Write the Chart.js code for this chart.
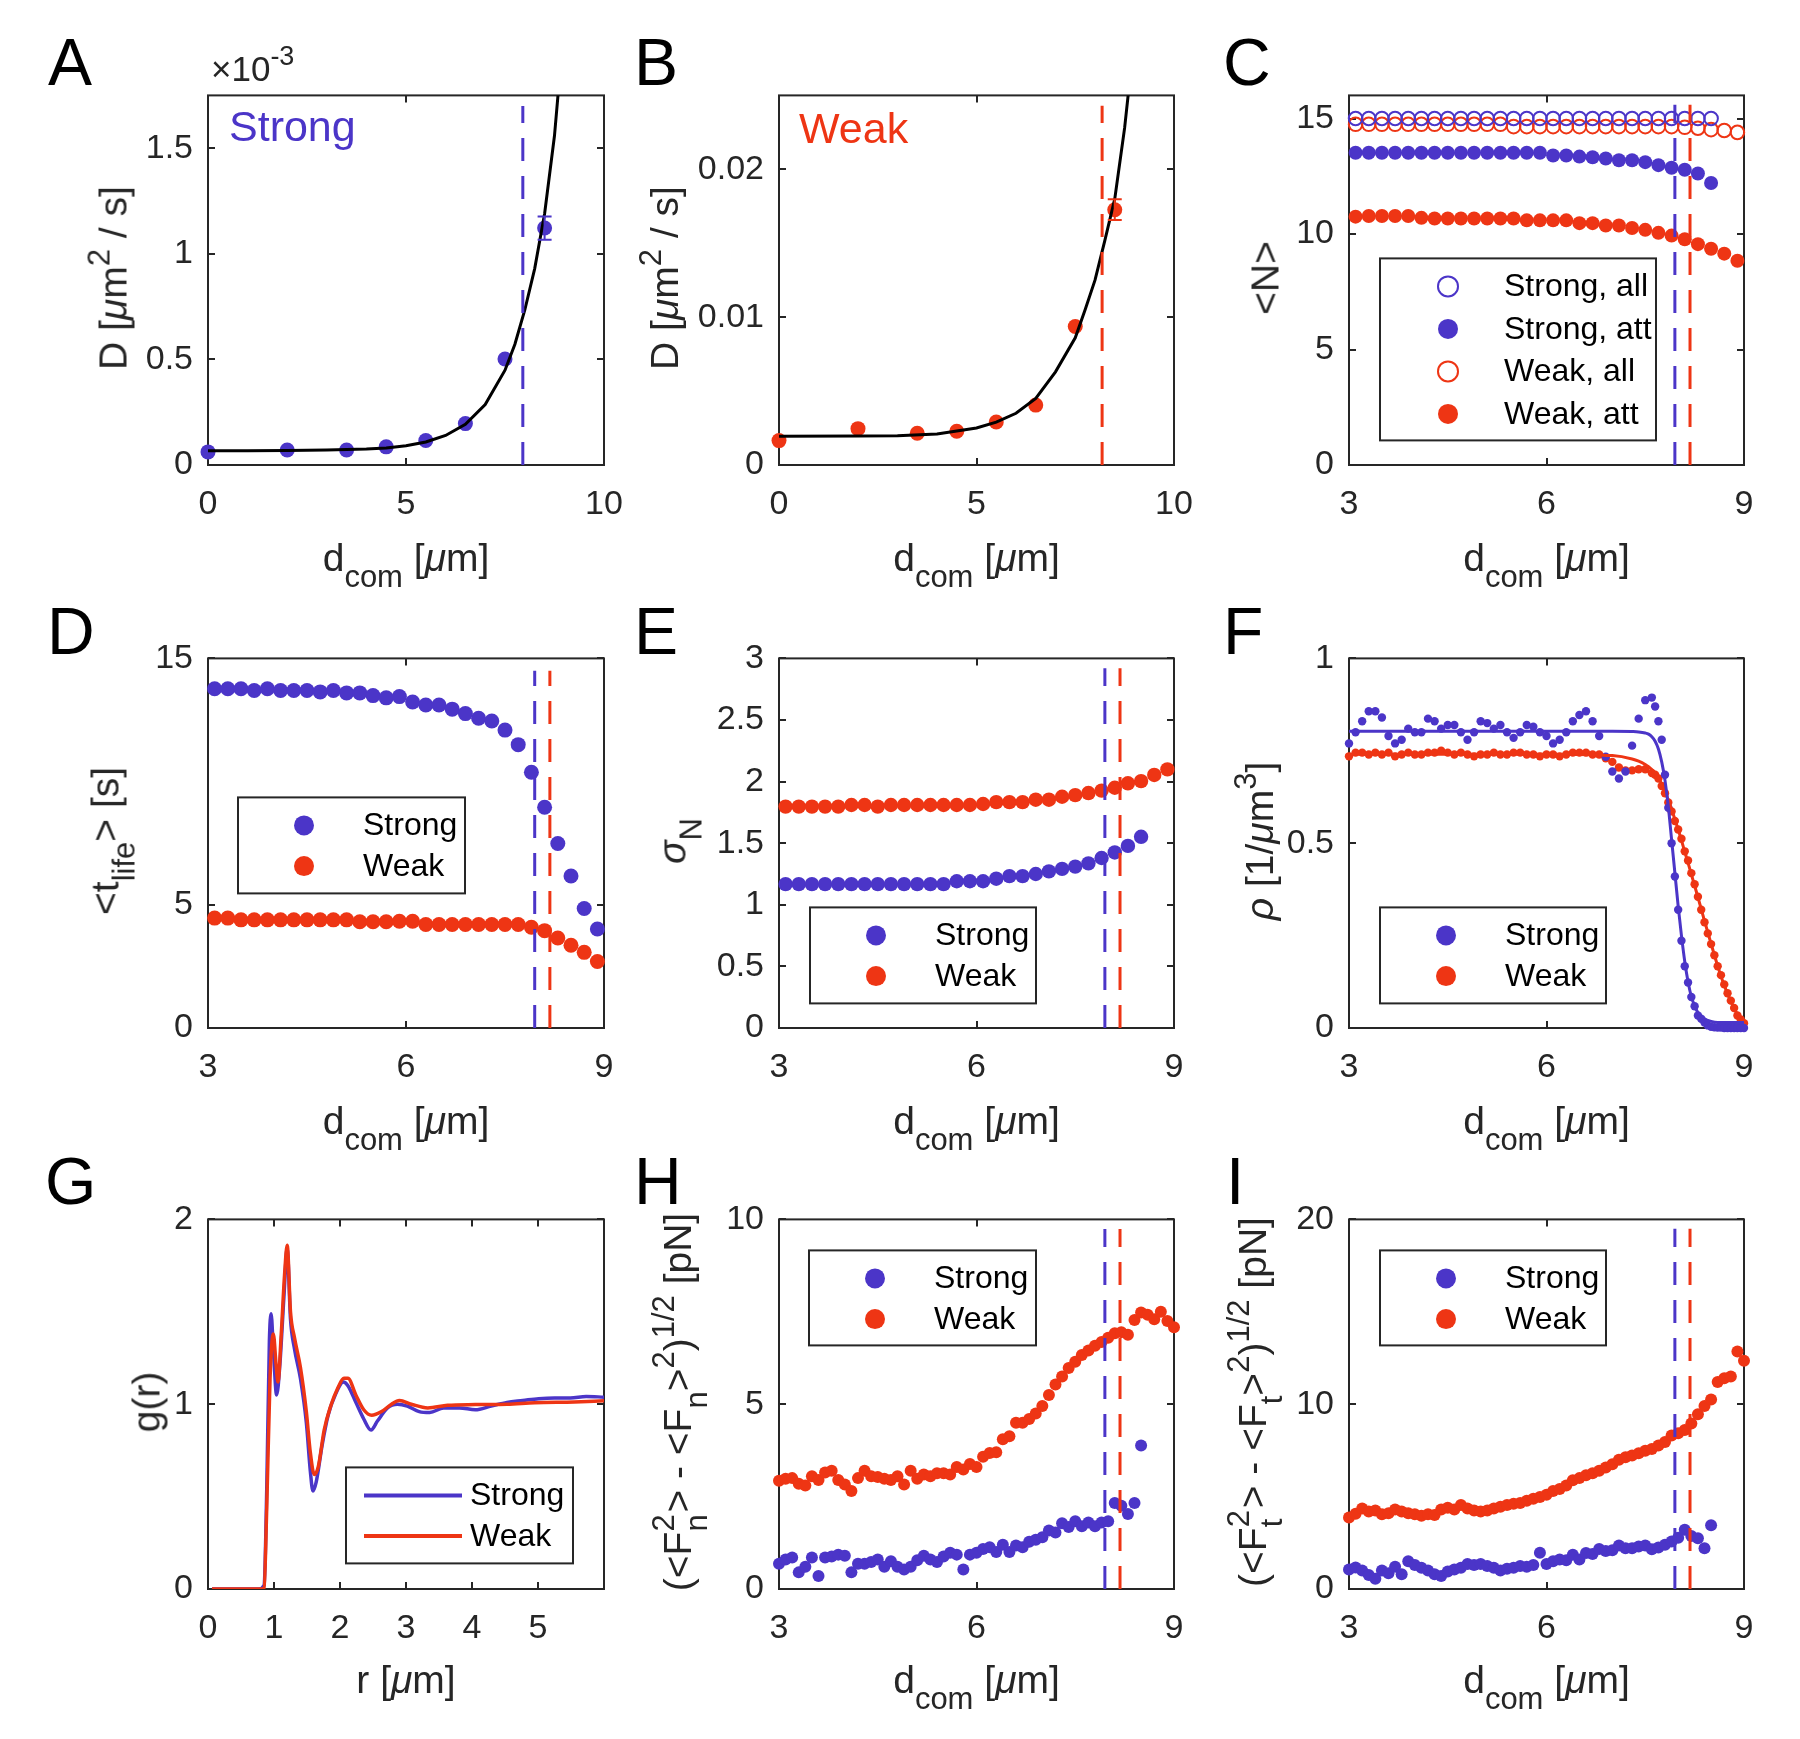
<!DOCTYPE html>
<html>
<head>
<meta charset="utf-8">
<script src="https://cdn.jsdelivr.net/npm/chart.js@4.4.1/dist/chart.umd.min.js"></script>
<style>
  body { margin: 0; background: #fff; }
  #page { position: relative; width: 1800px; height: 1739px; overflow: hidden; font-family: 'Liberation Sans', Arial, sans-serif; }
  canvas { position: absolute; }
  .lbl { position: absolute; white-space: nowrap; line-height: 1; color: #262626; }
  .sb { font-size: 31px; position: relative; top: 16px; }
  .sp { font-size: 31px; position: relative; top: -17px; }
  .ss { position: relative; display: inline-block; width: 19px; height: 0; }
  .ss .u { position: absolute; left: 0; top: -43px; font-size: 31px; }
  .ss .d { position: absolute; left: 0; top: -10px; font-size: 31px; }
</style>
</head>
<body>
<div id="page"></div>
<script>
const BLUE = '#4b35c8';
const RED = '#ee3514';
const INK = '#262626';
const FONT = "'Liberation Sans', Arial, Helvetica, sans-serif";

// cut-off distances (dashed lines)
const cutStrong = 7.95;
const cutWeak = 8.18;

// A, B: diffusion coefficient (A in units of 1e-3)
const abX = [0, 2, 3.5, 4.5, 5.5, 6.5, 7.5, 8.5];
const aD = [0.062, 0.071, 0.071, 0.086, 0.116, 0.196, 0.502, 1.122];
const aErr = [0, 0, 0, 0, 0, 0, 0, 0.055];
const aFitX = [0, 1, 2, 3, 4, 4.5, 5, 5.5, 6, 6.5, 7, 7.5, 7.75, 8, 8.25, 8.5, 8.75, 9];
const aFitY = [0.068, 0.068, 0.069, 0.071, 0.076, 0.081, 0.091, 0.109, 0.14, 0.193, 0.286, 0.449, 0.572, 0.734, 0.93, 1.19, 1.56, 2.1];
const bD = [0.00165, 0.00246, 0.00215, 0.00228, 0.00291, 0.00405, 0.00937, 0.01727];
const bErr = [0, 0, 0, 0, 0, 0, 0, 0.0007];
const bFitX = [0, 2, 3, 4, 4.5, 5, 5.5, 6, 6.5, 7, 7.5, 7.75, 8, 8.25, 8.5, 8.75, 9];
const bFitY = [0.00195, 0.00196, 0.00198, 0.0021, 0.0023, 0.0025, 0.0029, 0.0035, 0.0045, 0.0063, 0.0086, 0.0105, 0.0125, 0.0152, 0.018, 0.0228, 0.029];

// C, D, E share this d_com grid
const dcom = [3.1, 3.3, 3.5, 3.7, 3.9, 4.1, 4.3, 4.5, 4.7, 4.9, 5.1, 5.3, 5.5, 5.7, 5.9, 6.1, 6.3, 6.5, 6.7, 6.9, 7.1, 7.3, 7.5, 7.7, 7.9, 8.1, 8.3, 8.5, 8.7, 8.9];

// C: <N>
const cStrongAll = [15, 15, 15, 15, 15, 15, 15, 15, 15, 15, 15, 15, 15, 15, 15, 15, 15, 15, 15, 15, 15, 15, 15, 15, 15, 15, 15, 15];
const cStrongAtt = [13.52, 13.52, 13.52, 13.52, 13.52, 13.52, 13.52, 13.52, 13.52, 13.52, 13.52, 13.52, 13.52, 13.52, 13.52, 13.4, 13.4, 13.35, 13.32, 13.27, 13.19, 13.19, 13.11, 12.98, 12.87, 12.78, 12.62, 12.21];
const cWeakAll = [14.75, 14.75, 14.75, 14.75, 14.75, 14.75, 14.75, 14.75, 14.75, 14.75, 14.75, 14.75, 14.65, 14.65, 14.65, 14.65, 14.65, 14.65, 14.65, 14.65, 14.65, 14.65, 14.65, 14.65, 14.65, 14.62, 14.58, 14.52, 14.48, 14.4];
const cWeakAtt = [10.75, 10.78, 10.78, 10.78, 10.78, 10.7, 10.67, 10.67, 10.67, 10.67, 10.67, 10.67, 10.67, 10.59, 10.59, 10.59, 10.59, 10.47, 10.47, 10.37, 10.37, 10.26, 10.18, 10.05, 9.93, 9.77, 9.56, 9.36, 9.15, 8.84];

// D: <t_life>
const dStrong = [13.77, 13.77, 13.77, 13.7, 13.77, 13.7, 13.7, 13.7, 13.64, 13.7, 13.6, 13.6, 13.49, 13.4, 13.45, 13.23, 13.11, 13.11, 12.94, 12.76, 12.57, 12.46, 12.09, 11.5, 10.38, 8.96, 7.49, 6.17, 4.85, 4.02];
const dWeak = [4.46, 4.46, 4.39, 4.39, 4.39, 4.39, 4.39, 4.39, 4.39, 4.39, 4.39, 4.31, 4.31, 4.31, 4.33, 4.33, 4.2, 4.2, 4.2, 4.2, 4.2, 4.2, 4.2, 4.2, 4.09, 3.95, 3.65, 3.36, 3.07, 2.7];

// E: sigma_N
const eStrong = [1.168, 1.168, 1.168, 1.168, 1.168, 1.168, 1.168, 1.168, 1.168, 1.168, 1.168, 1.168, 1.168, 1.191, 1.191, 1.191, 1.212, 1.233, 1.233, 1.25, 1.271, 1.292, 1.31, 1.336, 1.38, 1.425, 1.478, 1.552];
const eWeak = [1.797, 1.797, 1.797, 1.797, 1.797, 1.81, 1.81, 1.797, 1.81, 1.81, 1.81, 1.81, 1.81, 1.81, 1.81, 1.818, 1.833, 1.833, 1.833, 1.853, 1.853, 1.877, 1.89, 1.907, 1.927, 1.95, 1.986, 2.004, 2.054, 2.099];

// F: density profile
const fX = [3.0, 3.1, 3.2, 3.3, 3.4, 3.5, 3.6, 3.7, 3.8, 3.9, 4.0, 4.1, 4.2, 4.3, 4.4, 4.5, 4.6, 4.7, 4.8, 4.9,
  5.0, 5.1, 5.2, 5.3, 5.4, 5.5, 5.6, 5.7, 5.8, 5.9, 6.0, 6.1, 6.2, 6.3, 6.4, 6.5, 6.6, 6.7, 6.8, 6.9,
  7.0, 7.1, 7.2, 7.3, 7.4, 7.5, 7.6, 7.65, 7.7, 7.75, 7.8, 7.85, 7.9, 7.95, 8.0, 8.05, 8.1, 8.15, 8.2,
  8.25, 8.3, 8.35, 8.4, 8.45, 8.5, 8.55, 8.6, 8.65, 8.7, 8.75, 8.8, 8.85, 8.9, 8.95, 9.0];
const fStrong = [0.77, 0.80, 0.83, 0.857, 0.857, 0.84, 0.79, 0.77, 0.78, 0.81, 0.80, 0.80, 0.837, 0.83, 0.81, 0.82, 0.82, 0.80, 0.78, 0.80,
  0.83, 0.825, 0.81, 0.82, 0.80, 0.785, 0.80, 0.82, 0.815, 0.80, 0.79, 0.77, 0.78, 0.80, 0.83, 0.847, 0.857, 0.83, 0.79, 0.734,
  0.694, 0.675, 0.694, 0.764, 0.837, 0.887, 0.894, 0.87, 0.83, 0.78, 0.685, 0.596, 0.50, 0.41, 0.32, 0.236, 0.167, 0.123, 0.084,
  0.059, 0.034, 0.025, 0.015, 0.007, 0.003, 0.002, 0.001, 0.001, 0, 0, 0, 0, 0, 0, 0];
const fWeak = [0.735, 0.745, 0.745, 0.74, 0.745, 0.74, 0.745, 0.735, 0.74, 0.745, 0.74, 0.74, 0.745, 0.745, 0.75, 0.745, 0.74, 0.745, 0.74, 0.735,
  0.74, 0.74, 0.745, 0.74, 0.74, 0.745, 0.745, 0.74, 0.74, 0.735, 0.74, 0.74, 0.735, 0.74, 0.745, 0.745, 0.745, 0.74, 0.74, 0.73,
  0.72, 0.705, 0.697, 0.697, 0.70, 0.70, 0.69, 0.685, 0.675, 0.655, 0.635, 0.61, 0.586, 0.56, 0.537, 0.512, 0.478, 0.453, 0.419,
  0.389, 0.355, 0.32, 0.286, 0.256, 0.227, 0.197, 0.167, 0.143, 0.118, 0.094, 0.074, 0.054, 0.034, 0.023, 0.013];
const fFitX = [3.0, 4.0, 5.0, 6.0, 7.0, 7.3, 7.4, 7.5, 7.55, 7.6, 7.65, 7.7, 7.75, 7.8, 7.85, 7.9, 7.95, 8.0, 8.05, 8.1, 8.15, 8.2, 8.25, 8.3, 8.4, 8.5, 8.6, 8.7, 8.8, 8.9, 9.0];
const fFitStrong = [0.803, 0.803, 0.803, 0.803, 0.803, 0.802, 0.801, 0.798, 0.795, 0.788, 0.776, 0.755, 0.72, 0.67, 0.60, 0.51, 0.42, 0.33, 0.25, 0.18, 0.125, 0.085, 0.06, 0.042, 0.025, 0.018, 0.015, 0.015, 0.015, 0.015, 0.015];
const fFitWeak = [0.741, 0.741, 0.741, 0.741, 0.737, 0.728, 0.722, 0.713, 0.707, 0.699, 0.689, 0.677, 0.66, 0.64, 0.617, 0.592, 0.565, 0.537, 0.508, 0.477, 0.447, 0.416, 0.385, 0.354, 0.29, 0.228, 0.168, 0.115, 0.072, 0.037, 0.015];

// G: g(r)
const gStrongR = [0.06, 0.77, 0.85, 0.89, 0.93, 0.956, 0.99, 1.04, 1.09, 1.15, 1.2, 1.25, 1.31, 1.4, 1.49, 1.55, 1.59, 1.64, 1.73, 1.82, 1.94, 2.05, 2.12, 2.24, 2.36, 2.47, 2.57, 2.72, 2.87, 3.02, 3.2, 3.36, 3.57, 3.81, 4.05, 4.29, 4.53, 4.77, 5.01, 5.25, 5.49, 5.73, 6.0];
const gStrong = [0, 0, 0.02, 0.54, 1.34, 1.49, 1.30, 1.05, 1.22, 1.58, 1.84, 1.46, 1.30, 1.14, 0.90, 0.64, 0.53, 0.58, 0.78, 0.94, 1.06, 1.12, 1.10, 1.01, 0.92, 0.86, 0.91, 0.98, 1.0, 0.99, 0.96, 0.955, 0.98, 0.98, 0.97, 0.99, 1.01, 1.02, 1.03, 1.034, 1.034, 1.042, 1.038];
const gWeakR = [0.06, 0.8, 0.85, 0.89, 0.94, 0.99, 1.03, 1.06, 1.11, 1.16, 1.2, 1.25, 1.31, 1.4, 1.49, 1.55, 1.61, 1.67, 1.76, 1.85, 1.97, 2.06, 2.12, 2.24, 2.36, 2.48, 2.63, 2.78, 2.9, 3.08, 3.33, 3.63, 4.05, 4.53, 4.95, 5.55, 6.0];
const gWeak = [0, 0, 0.006, 0.44, 1.14, 1.38, 1.22, 1.12, 1.38, 1.70, 1.86, 1.50, 1.36, 1.2, 0.96, 0.74, 0.62, 0.66, 0.86, 0.98, 1.09, 1.14, 1.14, 1.05, 0.97, 0.94, 0.96, 1.0, 1.02, 1.0, 0.98, 0.994, 0.998, 1.0, 1.008, 1.012, 1.018];

// H, I: force fluctuations
const hiX = [3.0, 3.1, 3.2, 3.3, 3.4, 3.5, 3.6, 3.7, 3.8, 3.9, 4.0, 4.1, 4.2, 4.3, 4.4, 4.5, 4.6, 4.7, 4.8, 4.9,
  5.0, 5.1, 5.2, 5.3, 5.4, 5.5, 5.6, 5.7, 5.8, 5.9, 6.0, 6.1, 6.2, 6.3, 6.4, 6.5, 6.6, 6.7, 6.8, 6.9,
  7.0, 7.1, 7.2, 7.3, 7.4, 7.5, 7.6, 7.7, 7.8, 7.9, 8.0, 8.1, 8.2, 8.3, 8.4, 8.5, 8.6, 8.7, 8.8, 8.9, 9.0];
const hStrong = [0.68, 0.8, 0.85, 0.45, 0.6, 0.85, 0.35, 0.85, 0.88, 0.93, 0.9, 0.45, 0.68, 0.68, 0.73, 0.8, 0.6, 0.75, 0.6, 0.53,
  0.6, 0.78, 0.9, 0.8, 0.73, 0.88, 0.98, 0.93, 0.53, 0.93, 0.98, 1.08, 1.13, 1.0, 1.2, 1.0, 1.18, 1.13, 1.28, 1.33,
  1.4, 1.58, 1.53, 1.78, 1.68, 1.83, 1.7, 1.8, 1.7, 1.8, 1.83, 2.33, 2.25, 2.03, 2.33, 3.88];
const hWeak = [2.93, 2.98, 3.0, 2.85, 2.8, 3.05, 2.95, 3.15, 3.2, 2.95, 2.83, 2.65, 3.0, 3.2, 3.05, 3.03, 2.98, 2.95, 3.05, 2.83,
  3.2, 2.98, 3.1, 3.05, 3.13, 3.13, 3.1, 3.3, 3.23, 3.38, 3.3, 3.58, 3.68, 3.7, 4.05, 4.13, 4.5, 4.5, 4.6, 4.75,
  4.95, 5.25, 5.53, 5.75, 5.98, 6.15, 6.33, 6.45, 6.58, 6.68, 6.8, 6.92, 6.95, 6.88, 7.28, 7.48, 7.42, 7.3, 7.5, 7.25, 7.08];
const iStrong = [1.06, 1.16, 1.0, 0.76, 0.55, 1.0, 0.85, 1.2, 0.8, 1.5, 1.3, 1.15, 1.0, 0.8, 0.7, 0.95, 1.05, 1.15, 1.35, 1.3,
  1.35, 1.25, 1.15, 1.0, 1.1, 1.15, 1.25, 1.2, 1.3, 1.96, 1.35, 1.5, 1.6, 1.55, 1.86, 1.6, 1.95, 1.9, 2.16, 2.05,
  2.1, 2.36, 2.2, 2.2, 2.3, 2.36, 2.15, 2.25, 2.4, 2.57, 2.77, 3.21, 2.87, 2.75, 2.2, 3.45];
const iWeak = [3.87, 4.07, 4.35, 4.2, 4.25, 4.05, 4.1, 4.3, 4.2, 4.1, 4.05, 3.97, 4.05, 4.0, 4.3, 4.4, 4.3, 4.55, 4.35, 4.25,
  4.2, 4.25, 4.35, 4.45, 4.55, 4.61, 4.65, 4.78, 4.88, 4.98, 5.1, 5.3, 5.41, 5.6, 5.88, 6.0, 6.15, 6.26, 6.4, 6.57,
  6.75, 7.0, 7.13, 7.22, 7.35, 7.48, 7.58, 7.76, 7.95, 8.3, 8.43, 8.6, 8.95, 9.45, 9.9, 10.25, 11.2, 11.4, 11.5, 12.85, 12.35];

// ---------- layout ----------
const COLS = [[208, 604], [779, 1174], [1349, 1744]];
const ROWS = [[90, 465], [653, 1028], [1214, 1589]];
const PL = 130, PT = 30, PR = 60, PB = 75;
const page = document.getElementById('page');
Chart.defaults.font.family = FONT;

const pts = (xs, ys) => ys.map((y, i) => ({ x: xs[i], y }));

function dots(label, xs, ys, color, r, open) {
  return {
    label, data: pts(xs, ys), showLine: false, clip: false, order: 3,
    pointRadius: r, pointHoverRadius: r,
    pointBackgroundColor: open ? 'rgba(0,0,0,0)' : color,
    pointBorderColor: color, pointBorderWidth: open ? 2 : 0,
    backgroundColor: color, borderColor: color
  };
}
function curve(xs, ys, color, w, label, order, smooth) {
  return {
    label, data: pts(xs, ys), showLine: true, pointRadius: 0, borderColor: color, backgroundColor: color,
    borderWidth: w, order: order, cubicInterpolationMode: smooth ? 'monotone' : 'default'
  };
}
function cut(x, top, color) {
  return {
    data: [{ x, y: 0 }, { x, y: top }], showLine: true, pointRadius: 0,
    borderColor: color, borderWidth: 3, borderDash: [23, 15], order: 0
  };
}

// MATLAB-style box with inward ticks
const matAxes = {
  id: 'matAxes',
  beforeDatasetsDraw(chart) {
    const { ctx, chartArea: a, scales } = chart;
    const L = 7;
    ctx.save();
    ctx.strokeStyle = INK;
    ctx.lineWidth = 2;
    ctx.beginPath();
    scales.x.ticks.forEach(t => {
      const p = Math.round(scales.x.getPixelForValue(t.value));
      ctx.moveTo(p, a.bottom); ctx.lineTo(p, a.bottom - L);
      ctx.moveTo(p, a.top); ctx.lineTo(p, a.top + L);
    });
    scales.y.ticks.forEach(t => {
      const p = Math.round(scales.y.getPixelForValue(t.value));
      ctx.moveTo(a.left, p); ctx.lineTo(a.left + L, p);
      ctx.moveTo(a.right, p); ctx.lineTo(a.right - L, p);
    });
    ctx.stroke();
    ctx.strokeRect(a.left, a.top, a.width, a.height);
    ctx.restore();
  }
};

const errBars = {
  id: 'errBars',
  afterDatasetsDraw(chart) {
    const { ctx, scales: { y } } = chart;
    chart.data.datasets.forEach((d, i) => {
      if (!d.errors) return;
      const meta = chart.getDatasetMeta(i);
      ctx.save();
      ctx.strokeStyle = d.borderColor;
      ctx.lineWidth = 2;
      d.errors.forEach((e, j) => {
        if (!e) return;
        const px = meta.data[j].x, v = d.data[j].y;
        const y0 = y.getPixelForValue(v - e), y1 = y.getPixelForValue(v + e);
        ctx.beginPath();
        ctx.moveTo(px, y0); ctx.lineTo(px, y1);
        ctx.moveTo(px - 7, y0); ctx.lineTo(px + 7, y0);
        ctx.moveTo(px - 7, y1); ctx.lineTo(px + 7, y1);
        ctx.stroke();
      });
      ctx.restore();
    });
  }
};

function boxLegend(o) {
  return {
    id: 'boxLegend',
    afterDatasetsDraw(chart) {
      if (!o) return;
      const { ctx, chartArea: a } = chart;
      const bx = a.left + o.box[0], by = a.top + o.box[1], bw = o.box[2], bh = o.box[3];
      ctx.save();
      ctx.fillStyle = '#fff';
      ctx.fillRect(bx, by, bw, bh);
      ctx.strokeStyle = INK;
      ctx.lineWidth = 2;
      ctx.strokeRect(bx, by, bw, bh);
      chart.data.datasets.filter(d => d.label).forEach((d, i) => {
        const cy = by + o.first + i * o.step;
        if (o.line) {
          ctx.strokeStyle = d.borderColor;
          ctx.lineWidth = 4;
          ctx.beginPath();
          ctx.moveTo(bx + o.line[0], cy); ctx.lineTo(bx + o.line[1], cy);
          ctx.stroke();
        } else {
          ctx.beginPath();
          ctx.arc(bx + o.mark, cy, 10, 0, Math.PI * 2);
          if (d.pointBorderWidth) { ctx.strokeStyle = d.pointBorderColor; ctx.lineWidth = 2; ctx.stroke(); }
          else { ctx.fillStyle = d.pointBackgroundColor; ctx.fill(); }
        }
        ctx.fillStyle = '#000';
        ctx.font = '32px ' + FONT;
        ctx.textBaseline = 'middle';
        ctx.textAlign = 'left';
        ctx.fillText(d.label, bx + o.text, cy + 1);
      });
      ctx.restore();
    }
  };
}

function axis(spec, dir) {
  const [min, max, ticks] = spec;
  return {
    type: 'linear', min, max,
    grid: { display: false, drawTicks: false },
    border: { display: false },
    afterBuildTicks: s => { s.ticks = ticks.map(v => ({ value: v })); },
    afterFit: s => { if (dir === 'x') s.height = PB; else s.width = PL; },
    ticks: { color: INK, font: { family: FONT, size: 34 }, padding: dir === 'x' ? 19 : 15, callback: v => String(v) }
  };
}

function panel(col, row, spec) {
  const [l, r] = COLS[col], [t, b] = ROWS[row];
  const w = r - l + PL + PR, h = b - t + PT + PB;
  const cv = document.createElement('canvas');
  cv.width = w; cv.height = h;
  cv.style.left = (l - PL) + 'px';
  cv.style.top = (t - PT) + 'px';
  cv.style.width = w + 'px';
  cv.style.height = h + 'px';
  page.appendChild(cv);
  return new Chart(cv, {
    type: 'scatter',
    data: { datasets: spec.datasets },
    options: {
      responsive: false, animation: false, devicePixelRatio: 1, events: [],
      layout: { padding: { left: 0, top: PT, right: PR, bottom: 0 } },
      scales: { x: axis(spec.x, 'x'), y: axis(spec.y, 'y') },
      plugins: { legend: { display: false }, tooltip: { enabled: false } }
    },
    plugins: [matAxes, errBars, boxLegend(spec.legend)]
  });
}

const X39 = [3, 9, [3, 6, 9]];
const dotLegend = (x, y, w, h) => ({ box: [x, y, w, h], first: 28, step: 40.7, mark: 66, text: 125 });

// A
const aSet = dots(null, abX, aD, BLUE, 7.5);
aSet.errors = aErr;
panel(0, 0, {
  x: [0, 10, [0, 5, 10]], y: [0, 1.75, [0, 0.5, 1, 1.5]],
  datasets: [cut(cutStrong, 1.7, BLUE), curve(aFitX, aFitY, '#000', 3, null, 1), aSet]
});
// B
const bSet = dots(null, abX, bD, RED, 7.5);
bSet.errors = bErr;
panel(1, 0, {
  x: [0, 10, [0, 5, 10]], y: [0, 0.025, [0, 0.01, 0.02]],
  datasets: [cut(cutWeak, 0.0243, RED), curve(bFitX, bFitY, '#000', 3, null, 1), bSet]
});
// C
panel(2, 0, {
  x: X39, y: [0, 16, [0, 5, 10, 15]],
  datasets: [
    dots('Strong, all', dcom, cStrongAll, BLUE, 6.8, true),
    dots('Strong, att', dcom, cStrongAtt, BLUE, 7),
    dots('Weak, all', dcom, cWeakAll, RED, 6.8, true),
    dots('Weak, att', dcom, cWeakAtt, RED, 7),
    cut(cutStrong, 15.6, BLUE), cut(cutWeak, 15.6, RED)
  ],
  legend: { box: [31, 163, 276, 182], first: 28, step: 42.5, mark: 68, text: 124 }
});
// D
panel(0, 1, {
  x: X39, y: [0, 15, [0, 5, 15]],
  datasets: [dots('Strong', dcom, dStrong, BLUE, 7.5), dots('Weak', dcom, dWeak, RED, 7.5),
    cut(cutStrong, 14.5, BLUE), cut(cutWeak, 14.5, RED)],
  legend: dotLegend(30, 139, 227, 96)
});
// E
panel(1, 1, {
  x: X39, y: [0, 3, [0, 0.5, 1, 1.5, 2, 2.5, 3]],
  datasets: [dots('Strong', dcom, eStrong, BLUE, 7.2), dots('Weak', dcom, eWeak, RED, 7.2),
    cut(cutStrong, 2.92, BLUE), cut(cutWeak, 2.92, RED)],
  legend: dotLegend(31, 249, 226, 96)
});
// F
panel(2, 1, {
  x: X39, y: [0, 1, [0, 0.5, 1]],
  datasets: [dots('Strong', fX, fStrong, BLUE, 4.2), dots('Weak', fX, fWeak, RED, 4.2),
    curve(fFitX, fFitStrong, BLUE, 3, null, 1, true), curve(fFitX, fFitWeak, RED, 3, null, 1, true)],
  legend: dotLegend(31, 249, 226, 96)
});
// G
panel(0, 2, {
  x: [0, 6, [0, 1, 2, 3, 4, 5]], y: [0, 2, [0, 1, 2]],
  datasets: [curve(gStrongR, gStrong, BLUE, 3.5, 'Strong', 2, true), curve(gWeakR, gWeak, RED, 3.5, 'Weak', 1, true)],
  legend: { box: [138, 248, 227, 96], first: 28, step: 40.7, line: [18, 116], text: 124 }
});
// H
panel(1, 2, {
  x: X39, y: [0, 10, [0, 5, 10]],
  datasets: [dots('Strong', hiX, hStrong, BLUE, 6), dots('Weak', hiX, hWeak, RED, 6),
    cut(cutStrong, 9.74, BLUE), cut(cutWeak, 9.74, RED)],
  legend: dotLegend(30, 31, 227, 95)
});
// I
panel(2, 2, {
  x: X39, y: [0, 20, [0, 10, 20]],
  datasets: [dots('Strong', hiX, iStrong, BLUE, 6), dots('Weak', hiX, iWeak, RED, 6),
    cut(cutStrong, 19.5, BLUE), cut(cutWeak, 19.5, RED)],
  legend: dotLegend(31, 31, 226, 95)
});

// ---------- text ----------
function label(html, x, y, o = {}) {
  const d = document.createElement('div');
  d.className = 'lbl';
  d.innerHTML = html;
  const fs = o.size || 39;
  d.style.fontSize = fs + 'px';
  if (o.color) d.style.color = o.color;
  d.style.left = x + 'px';
  if (o.rot) {
    d.style.top = y + 'px';
    d.style.transform = 'translate(-50%,-50%) rotate(-90deg)';
  } else {
    d.style.top = (y - 0.8465 * fs) + 'px';
    if (o.center) d.style.transform = 'translateX(-50%)';
  }
  page.appendChild(d);
}

const letters = [['A', 48, 85], ['B', 634, 85], ['C', 1223, 85], ['D', 47, 654], ['E', 634, 654], ['F', 1223, 654],
  ['G', 45, 1204], ['H', 634, 1204], ['I', 1226, 1204]];
letters.forEach(([s, x, y]) => label(s, x, y, { size: 66, color: '#000' }));

const mu = '<i>μ</i>';
const dTitle = 'd<span class="sb">com</span> [' + mu + 'm]';
const xBase = [571, 1134, 1693];
const xMid = COLS.map(c => (c[0] + c[1]) / 2);
const yMid = ROWS.map(r => (r[0] + r[1]) / 2);
[[0, 0], [1, 0], [2, 0], [0, 1], [1, 1], [2, 1], [1, 2], [2, 2]].forEach(([c, r]) => label(dTitle, xMid[c], xBase[r], { center: true }));
label('r [' + mu + 'm]', xMid[0], xBase[2], { center: true });

const dLabel = 'D [' + mu + 'm<span class="sp">2</span> / s]';
label(dLabel, 113, yMid[0], { rot: true });
label(dLabel, 664, yMid[0], { rot: true });
label('&lt;N&gt;', 1265, yMid[0], { rot: true });
label('&lt;t<span class="sb">life</span>&gt; [s]', 105, yMid[1], { rot: true });
label('<i>σ</i><span class="sb">N</span>', 672, yMid[1], { rot: true });
label('<i>ρ</i> [1/' + mu + 'm<span class="sp">3</span>]', 1259, yMid[1], { rot: true });
label('g(r)', 146, yMid[2], { rot: true });
const fLabel = s => '(&lt;F<span class="ss"><span class="u">2</span><span class="d">' + s + '</span></span>&gt; - &lt;F<span class="sb">' + s +
  '</span>&gt;<span class="sp">2</span>)<span class="sp">1/2</span> [pN]';
label(fLabel('n'), 677, yMid[2], { rot: true });
label(fLabel('t'), 1252, yMid[2], { rot: true });

label('×10<span class="sp" style="font-size:27px;top:-16px">-3</span>', 211, 81, { size: 35 });
label('Strong', 229, 141, { size: 43, color: BLUE });
label('Weak', 799, 143, { size: 43, color: RED });
</script>
</body>
</html>
